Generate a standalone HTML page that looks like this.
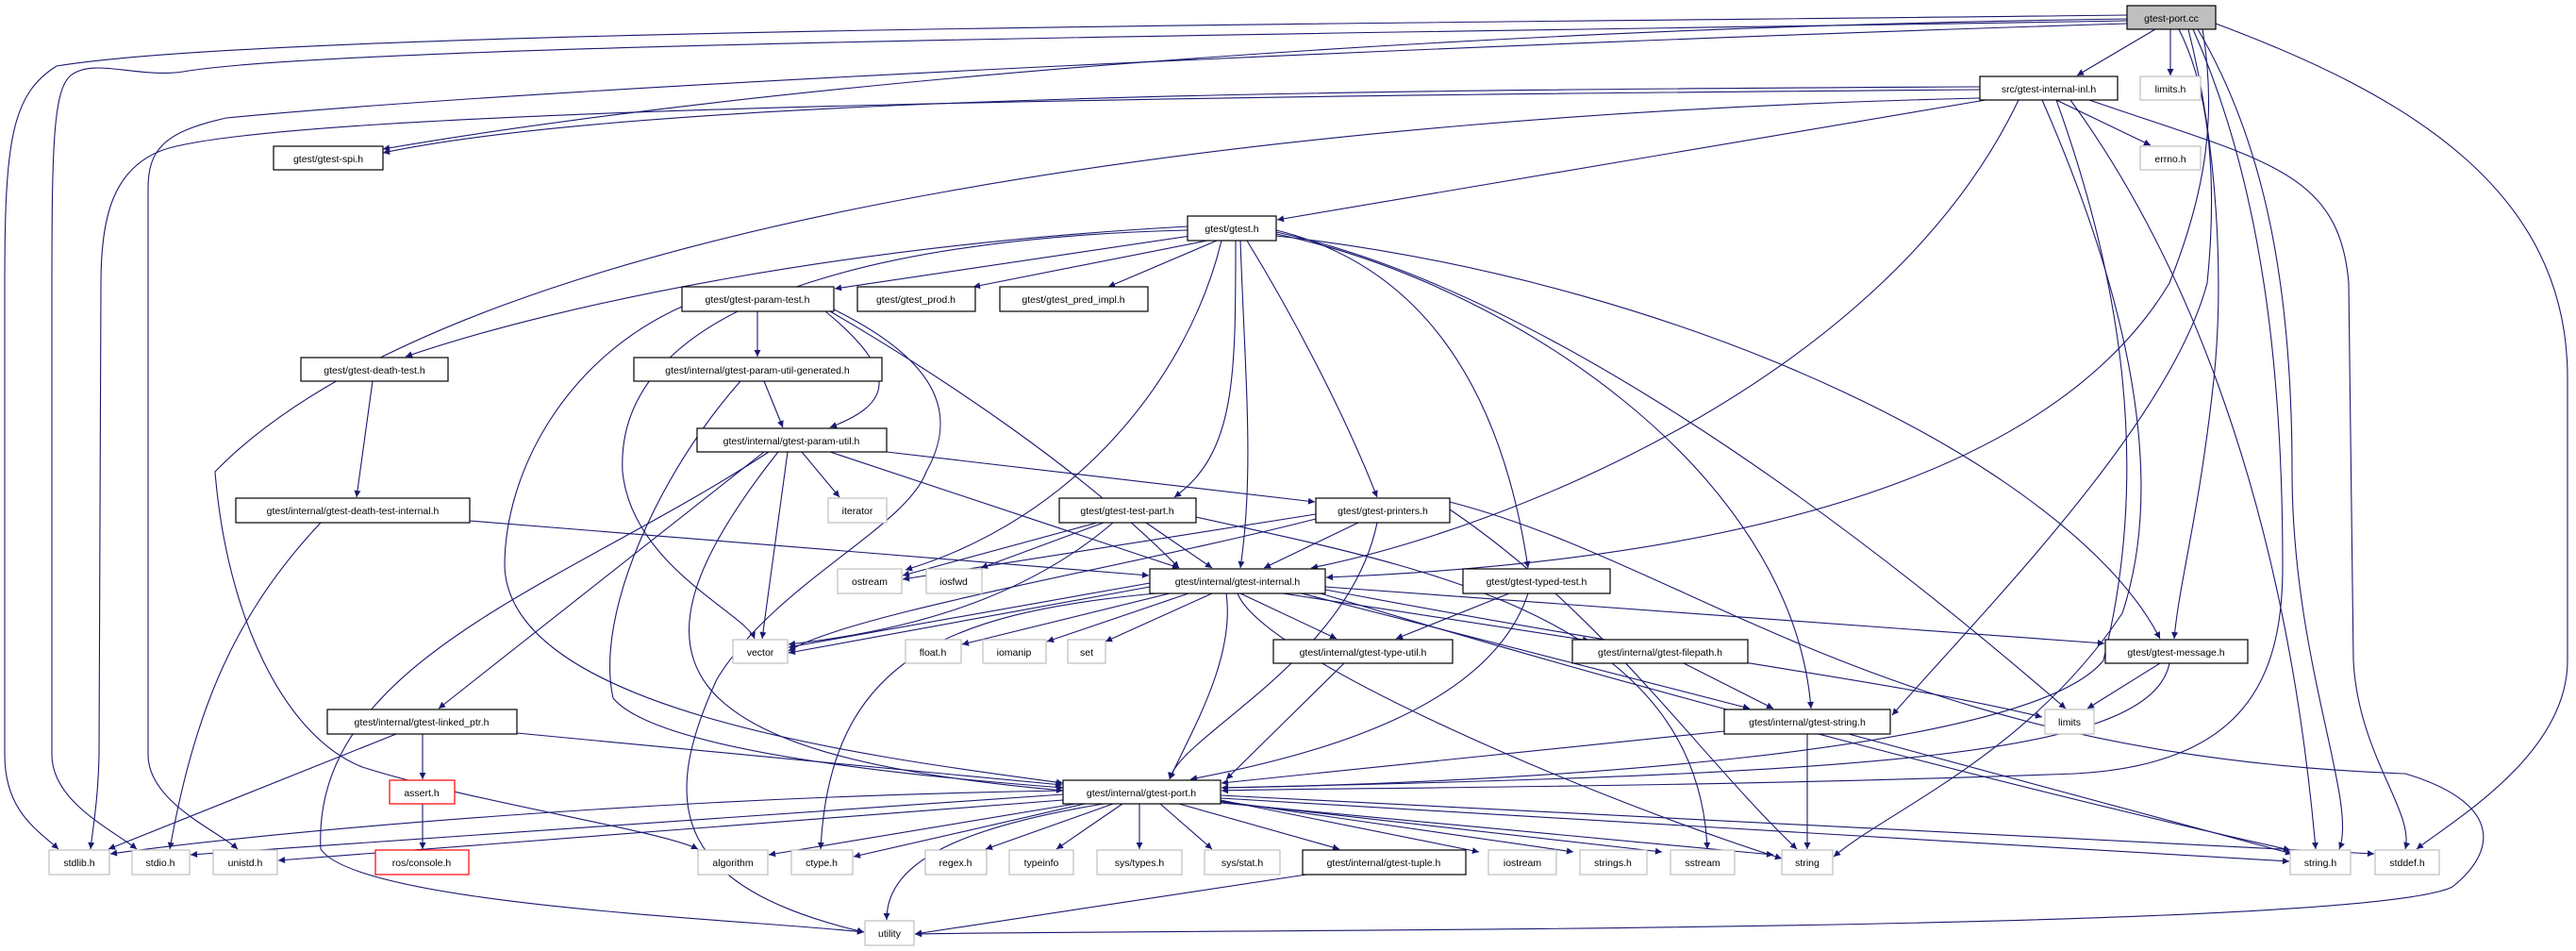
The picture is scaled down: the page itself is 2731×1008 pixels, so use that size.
<!DOCTYPE html>
<html><head><meta charset="utf-8"><style>
html,body{margin:0;padding:0;background:#fff;}
svg{display:block;}
text{font-family:"Liberation Sans",sans-serif;font-size:10.5px;fill:#000;}
.e{fill:none;stroke:#191970;stroke-width:1.1;}
.d{fill:#fff;stroke:#000;stroke-width:1.2;}
.u{fill:#fff;stroke:#bfbfbf;stroke-width:1.2;}
.r{fill:#fff;stroke:#ff0000;stroke-width:1.2;}
</style></head><body>
<svg width="2731" height="1008" viewBox="0 0 2731 1008" xmlns="http://www.w3.org/2000/svg">
<defs><marker id="a" viewBox="0 0 10 10" refX="10" refY="5" markerWidth="10" markerHeight="7" markerUnits="userSpaceOnUse" orient="auto"><path d="M0,0L10,5L0,10z" fill="#191970"/></marker></defs>
<g class="e" marker-end="url(#a)">
<path d="M2285,31 L2202,80"/>
<path d="M2301,31 L2301,80"/>
<path d="M2255,20 C1500,30 800,90 406,158"/>
<path d="M2255,16 C1500,25 300,30 60,70 C12,100 5,150 5,300 L5,800 C5,860 40,880 62,900"/>
<path d="M2255,22 C1500,35 400,45 200,75 C150,85 100,60 75,80 C57,95 55,150 55,300 L55,800 C55,850 120,880 145,900"/>
<path d="M2255,25 C1600,45 600,90 240,125 C172,140 157,160 157,200 L157,800 C157,850 230,880 252,900"/>
<path d="M2320,31 C2350,150 2360,300 2345,420 C2330,550 2310,620 2305,677"/>
<path d="M2310,31 C2345,100 2350,200 2340,300 C2300,450 2100,650 2006,758"/>
<path d="M2325,31 C2400,200 2420,400 2420,600 C2420,720 2380,810 2200,820 C1800,835 1400,835 1295,838"/>
<path d="M2335,31 C2350,120 2340,200 2300,300 C2150,550 1700,600 1406,612"/>
<path d="M2349,25 C2550,100 2722,200 2722,400 L2722,700 C2722,800 2600,870 2562,900"/>
<path d="M2330,31 C2400,150 2430,300 2430,500 C2430,700 2500,850 2480,900"/>
<path d="M2099,92 C1500,95 700,100 406,162"/>
<path d="M2099,95 C1500,100 300,110 170,160 C120,180 107,230 107,300 L105,800 C104,850 98,880 96,900"/>
<path d="M2105,106 L1354,233"/>
<path d="M2099,104 C1400,120 500,220 228,500 C240,650 300,780 384,813 C500,850 700,880 740,900"/>
<path d="M2180,106 L2280,154"/>
<path d="M2140,106 C2000,400 1600,560 1390,602"/>
<path d="M2180,106 C2250,300 2280,500 2230,700 C2150,800 1600,830 1295,835"/>
<path d="M2195,106 C2300,250 2420,500 2455,900"/>
<path d="M2215,106 C2400,170 2480,180 2490,300 L2495,700 C2500,800 2560,860 2550,900"/>
<path d="M2165,106 C2250,300 2300,500 2250,650 C2150,800 2000,860 1944,908"/>
<path d="M1262,250 L885,306"/>
<path d="M1280,255 L1032,304"/>
<path d="M1290,255 L1175,304"/>
<path d="M1259,240 C900,260 600,320 430,378"/>
<path d="M1259,244 C1000,250 650,300 660,500 C670,600 790,650 800,677"/>
<path d="M1295,255 C1260,400 1140,550 960,604"/>
<path d="M1310,255 C1310,400 1310,480 1245,527"/>
<path d="M1315,255 C1320,400 1330,500 1315,602"/>
<path d="M1322,255 C1380,350 1430,450 1460,527"/>
<path d="M1353,244 C1500,280 1590,400 1620,602"/>
<path d="M1353,246 C1600,300 1900,500 2190,751"/>
<path d="M1353,248 C1600,300 1900,500 1920,751"/>
<path d="M1353,250 C1800,300 2200,500 2290,677"/>
<path d="M803,330 L803,378"/>
<path d="M875,330 C960,400 940,430 880,453"/>
<path d="M880,330 C1000,400 1150,500 1250,602"/>
<path d="M884,328 C1010,390 1010,450 982,500 C960,560 820,620 760,720 C700,850 710,940 916,988"/>
<path d="M723,325 C600,380 535,500 535,600 C540,750 900,800 1127,830"/>
<path d="M785,404 C700,500 630,650 650,740 C700,800 1000,825 1127,835"/>
<path d="M810,404 L830,453"/>
<path d="M395,404 L378,527"/>
<path d="M850,479 L890,527"/>
<path d="M835,479 L808,677"/>
<path d="M940,479 L1394,532"/>
<path d="M880,479 L1250,602"/>
<path d="M810,479 L465,751"/>
<path d="M815,479 C600,620 330,700 340,900 C380,960 800,975 916,988"/>
<path d="M825,479 C650,700 700,800 1127,838"/>
<path d="M498,552 L1218,610"/>
<path d="M340,554 C250,650 207,750 180,900"/>
<path d="M448,778 L448,826"/>
<path d="M420,778 L115,900"/>
<path d="M548,777 L1126,832"/>
<path d="M448,852 L448,900"/>
<path d="M1163,554 L957,610"/>
<path d="M1170,554 L1040,602"/>
<path d="M1215,554 L1285,602"/>
<path d="M1180,554 C1080,640 950,670 836,683"/>
<path d="M1268,548 C1500,600 1800,650 1810,900"/>
<path d="M1440,554 L1340,602"/>
<path d="M1395,545 L957,614"/>
<path d="M1395,550 C1200,600 900,650 836,690"/>
<path d="M1460,554 C1430,700 1250,780 1240,826"/>
<path d="M1537,540 C1700,650 1800,800 1905,900"/>
<path d="M1537,532 C1800,600 2000,800 2550,820 C2650,850 2650,900 2600,940 C2500,990 1200,985 970,990"/>
<path d="M1219,618 L836,686"/>
<path d="M1219,622 L836,692"/>
<path d="M1240,629 L1020,683"/>
<path d="M1260,629 L1110,680"/>
<path d="M1285,629 L1172,680"/>
<path d="M1225,629 C1000,650 880,700 870,900"/>
<path d="M1300,629 C1310,700 1260,780 1240,826"/>
<path d="M1315,629 L1417,677"/>
<path d="M1360,629 L1685,679"/>
<path d="M1380,629 L1855,751"/>
<path d="M1405,622 L2231,682"/>
<path d="M1405,625 C1800,700 2000,720 2165,760"/>
<path d="M1400,629 C1800,750 2200,850 2428,901"/>
<path d="M1312,629 C1340,700 1700,850 1889,910"/>
<path d="M1600,629 L1480,677"/>
<path d="M1620,629 C1580,750 1400,800 1262,826"/>
<path d="M1425,703 L1300,826"/>
<path d="M1785,703 L1880,751"/>
<path d="M2290,703 L2213,751"/>
<path d="M2300,703 C2280,800 2000,820 1295,835"/>
<path d="M1828,775 L1295,830"/>
<path d="M1916,778 L1916,900"/>
<path d="M1960,778 L2430,905"/>
<path d="M1127,838 C700,845 300,880 117,905"/>
<path d="M1127,842 L202,906"/>
<path d="M1127,848 L295,912"/>
<path d="M1140,852 L815,906"/>
<path d="M1150,852 L905,908"/>
<path d="M1180,852 L1045,900"/>
<path d="M1190,852 L1120,900"/>
<path d="M1208,852 L1208,900"/>
<path d="M1230,852 L1285,900"/>
<path d="M1250,852 L1420,900"/>
<path d="M1294,848 L1568,903"/>
<path d="M1294,849 L1668,903"/>
<path d="M1294,850 L1762,903"/>
<path d="M1294,851 L1880,906"/>
<path d="M1294,846 L2427,913"/>
<path d="M1294,843 L2517,905"/>
<path d="M1170,852 C1000,880 940,920 940,975"/>
<path d="M1385,927 L970,990"/>
</g>
<g>
<rect class="d" x="2255" y="6" width="94" height="25" style="fill:#bfbfbf"/><text x="2302" y="23" text-anchor="middle">gtest-port.cc</text>
<rect class="d" x="2099" y="81" width="146" height="25"/><text x="2172" y="98" text-anchor="middle">src/gtest-internal-inl.h</text>
<rect class="u" x="2269" y="81" width="64" height="25"/><text x="2301" y="98" text-anchor="middle">limits.h</text>
<rect class="u" x="2269" y="155" width="64" height="25"/><text x="2301" y="172" text-anchor="middle">errno.h</text>
<rect class="d" x="290" y="155" width="116" height="25"/><text x="348" y="172" text-anchor="middle">gtest/gtest-spi.h</text>
<rect class="d" x="1259" y="229" width="94" height="26"/><text x="1306" y="246" text-anchor="middle">gtest/gtest.h</text>
<rect class="d" x="723" y="304" width="161" height="26"/><text x="803" y="321" text-anchor="middle">gtest/gtest-param-test.h</text>
<rect class="d" x="909" y="304" width="125" height="26"/><text x="971" y="321" text-anchor="middle">gtest/gtest_prod.h</text>
<rect class="d" x="1060" y="304" width="157" height="26"/><text x="1138" y="321" text-anchor="middle">gtest/gtest_pred_impl.h</text>
<rect class="d" x="319" y="379" width="156" height="25"/><text x="397" y="396" text-anchor="middle">gtest/gtest-death-test.h</text>
<rect class="d" x="672" y="379" width="263" height="25"/><text x="803" y="396" text-anchor="middle">gtest/internal/gtest-param-util-generated.h</text>
<rect class="d" x="739" y="454" width="201" height="25"/><text x="839" y="471" text-anchor="middle">gtest/internal/gtest-param-util.h</text>
<rect class="d" x="250" y="528" width="248" height="26"/><text x="374" y="545" text-anchor="middle">gtest/internal/gtest-death-test-internal.h</text>
<rect class="u" x="878" y="528" width="62" height="26"/><text x="909" y="545" text-anchor="middle">iterator</text>
<rect class="d" x="1123" y="528" width="145" height="26"/><text x="1195" y="545" text-anchor="middle">gtest/gtest-test-part.h</text>
<rect class="d" x="1395" y="528" width="142" height="26"/><text x="1466" y="545" text-anchor="middle">gtest/gtest-printers.h</text>
<rect class="u" x="888" y="603" width="68" height="26"/><text x="922" y="620" text-anchor="middle">ostream</text>
<rect class="u" x="982" y="603" width="59" height="26"/><text x="1011" y="620" text-anchor="middle">iosfwd</text>
<rect class="d" x="1219" y="603" width="186" height="26"/><text x="1312" y="620" text-anchor="middle">gtest/internal/gtest-internal.h</text>
<rect class="d" x="1551" y="603" width="156" height="26"/><text x="1629" y="620" text-anchor="middle">gtest/gtest-typed-test.h</text>
<rect class="u" x="777" y="678" width="58" height="25"/><text x="806" y="695" text-anchor="middle">vector</text>
<rect class="u" x="960" y="678" width="59" height="25"/><text x="989" y="695" text-anchor="middle">float.h</text>
<rect class="u" x="1042" y="678" width="67" height="25"/><text x="1075" y="695" text-anchor="middle">iomanip</text>
<rect class="u" x="1132" y="678" width="40" height="25"/><text x="1152" y="695" text-anchor="middle">set</text>
<rect class="d" x="1350" y="678" width="190" height="25"/><text x="1445" y="695" text-anchor="middle">gtest/internal/gtest-type-util.h</text>
<rect class="d" x="1667" y="678" width="186" height="25"/><text x="1760" y="695" text-anchor="middle">gtest/internal/gtest-filepath.h</text>
<rect class="d" x="2232" y="678" width="151" height="25"/><text x="2307" y="695" text-anchor="middle">gtest/gtest-message.h</text>
<rect class="d" x="347" y="752" width="201" height="26"/><text x="447" y="769" text-anchor="middle">gtest/internal/gtest-linked_ptr.h</text>
<rect class="d" x="1828" y="752" width="176" height="26"/><text x="1916" y="769" text-anchor="middle">gtest/internal/gtest-string.h</text>
<rect class="u" x="2168" y="752" width="52" height="26"/><text x="2194" y="769" text-anchor="middle">limits</text>
<rect class="r" x="413" y="827" width="69" height="25"/><text x="447" y="844" text-anchor="middle">assert.h</text>
<rect class="d" x="1127" y="827" width="167" height="25"/><text x="1210" y="844" text-anchor="middle">gtest/internal/gtest-port.h</text>
<rect class="u" x="52" y="901" width="64" height="26"/><text x="84" y="918" text-anchor="middle">stdlib.h</text>
<rect class="u" x="140" y="901" width="61" height="26"/><text x="170" y="918" text-anchor="middle">stdio.h</text>
<rect class="u" x="226" y="901" width="68" height="26"/><text x="260" y="918" text-anchor="middle">unistd.h</text>
<rect class="r" x="398" y="901" width="99" height="26"/><text x="447" y="918" text-anchor="middle">ros/console.h</text>
<rect class="u" x="740" y="901" width="74" height="26"/><text x="777" y="918" text-anchor="middle">algorithm</text>
<rect class="u" x="839" y="901" width="65" height="26"/><text x="871" y="918" text-anchor="middle">ctype.h</text>
<rect class="u" x="981" y="901" width="65" height="26"/><text x="1013" y="918" text-anchor="middle">regex.h</text>
<rect class="u" x="1070" y="901" width="68" height="26"/><text x="1104" y="918" text-anchor="middle">typeinfo</text>
<rect class="u" x="1163" y="901" width="90" height="26"/><text x="1208" y="918" text-anchor="middle">sys/types.h</text>
<rect class="u" x="1277" y="901" width="80" height="26"/><text x="1317" y="918" text-anchor="middle">sys/stat.h</text>
<rect class="d" x="1381" y="901" width="173" height="26"/><text x="1467" y="918" text-anchor="middle">gtest/internal/gtest-tuple.h</text>
<rect class="u" x="1578" y="901" width="72" height="26"/><text x="1614" y="918" text-anchor="middle">iostream</text>
<rect class="u" x="1675" y="901" width="71" height="26"/><text x="1710" y="918" text-anchor="middle">strings.h</text>
<rect class="u" x="1771" y="901" width="68" height="26"/><text x="1805" y="918" text-anchor="middle">sstream</text>
<rect class="u" x="1889" y="901" width="54" height="26"/><text x="1916" y="918" text-anchor="middle">string</text>
<rect class="u" x="2428" y="901" width="64" height="26"/><text x="2460" y="918" text-anchor="middle">string.h</text>
<rect class="u" x="2518" y="901" width="68" height="26"/><text x="2552" y="918" text-anchor="middle">stddef.h</text>
<rect class="u" x="917" y="976" width="52" height="26"/><text x="943" y="993" text-anchor="middle">utility</text>
</g>
</svg>
</body></html>
